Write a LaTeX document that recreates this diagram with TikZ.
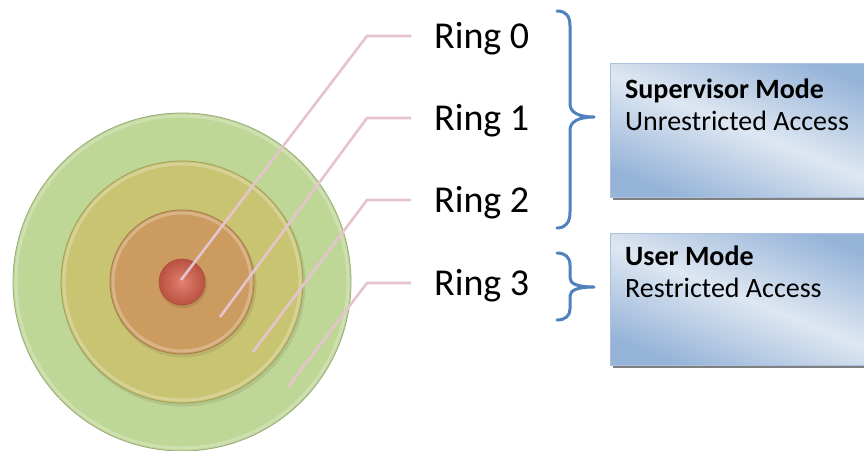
\documentclass[tikz,border=0pt]{standalone}
\usepackage{fontspec}
\setmainfont{Carlito}
\definecolor{ringgreen}{RGB}{190,214,150}
\definecolor{ringyellow}{RGB}{201,196,114}
\definecolor{ringorange}{RGB}{204,155,96}
\definecolor{ringred}{RGB}{218,96,76}
\definecolor{leader}{RGB}{230,196,206}
\definecolor{bracecol}{RGB}{79,129,189}
\definecolor{boxdark}{RGB}{150,180,216}
\definecolor{boxlight}{RGB}{222,231,242}
\definecolor{boxedge}{RGB}{170,194,224}
\definecolor{boxshadow}{RGB}{128,128,128}
\tikzset{
  disk/.style={fill=#1, draw=#1!80!black, line width=0.8pt},
  bevel/.style={draw=white, opacity=0.25, line width=3pt},
  leaderline/.style={draw=leader, line width=2.6pt},
  ringlabel/.style={anchor=base west, inner sep=0pt, font=\fontsize{38}{40}\selectfont},
  boxfill/.style={left color=boxdark, right color=boxdark, middle color=boxlight, shading angle=-22},
  modebox/.style={anchor=north west, minimum width=280pt, minimum height=134pt,
    inner sep=0pt, draw=boxedge, line width=0.8pt},
  modetext/.style={anchor=base west, inner sep=0pt, font=\fontsize{28}{30}\selectfont},
  brace/.style={draw=bracecol, line width=3pt, line cap=round, line join=round}
}
\begin{document}
\begin{tikzpicture}[x=1pt,y=-1pt]
\useasboundingbox (0,0) rectangle (864,450);
\fill[white] (0,0) rectangle (864,450);

% concentric protection rings
\coordinate (ctr) at (182,282);
\fill[disk=ringgreen] (ctr) circle (169);
\draw[bevel] (ctr) circle (166);
\fill[black, opacity=0.08] ([shift={(1.5,2.5)}]ctr) circle (122);
\fill[disk=ringyellow] (ctr) circle (121);
\draw[bevel] (ctr) circle (118);
\fill[black, opacity=0.08] ([shift={(1.5,2.5)}]ctr) circle (73);
\fill[disk=ringorange] (ctr) circle (72);
\draw[bevel] (ctr) circle (69);
\fill[black, opacity=0.1] ([shift={(1,2)}]ctr) circle (24);
\shade[inner color=ringred!80!white, outer color=ringred!85!black, draw=ringred!80!black, line width=0.6pt] (ctr) circle (23);

% leader end points
\coordinate (tip0) at (181,280);
\coordinate (tip1) at (220,317);
\coordinate (tip2) at (253,352);
\coordinate (tip3) at (288,387);
\coordinate (knee0) at (367,36);
\coordinate (knee1) at (367,118);
\coordinate (knee2) at (367,200);
\coordinate (knee3) at (367,283);
\coordinate (end0) at (411,36);
\coordinate (end1) at (411,118);
\coordinate (end2) at (411,200);
\coordinate (end3) at (411,283);

\draw[leaderline] (tip0) -- (knee0) -- (end0);
\draw[leaderline] (tip1) -- (knee1) -- (end1);
\draw[leaderline] (tip2) -- (knee2) -- (end2);
\draw[leaderline] (tip3) -- (knee3) -- (end3);

% ring labels
\node[ringlabel] (ring0) at (434,48) {Ring 0};
\node[ringlabel] (ring1) at (434,130) {Ring 1};
\node[ringlabel] (ring2) at (434,212) {Ring 2};
\node[ringlabel] (ring3) at (434,295) {Ring 3};

% braces grouping the rings
\draw[brace] (557,11) .. controls (566,11) and (570,16) .. (570,26)
  -- (570,104) .. controls (570,112) and (578,117) .. (594,117)
  .. controls (578,117) and (570,122) .. (570,130)
  -- (570,212) .. controls (570,222) and (566,228) .. (557,228);
\draw[brace] (557,253) .. controls (565,253) and (570,257) .. (570,265)
  -- (570,278) .. controls (570,284) and (578,287) .. (594,287)
  .. controls (578,287) and (570,290) .. (570,296)
  -- (570,309) .. controls (570,316) and (565,320) .. (557,320);

% mode boxes: shadow, gradient body, outline
\fill[boxshadow] (612.5,66) rectangle (885,200);
\shade[boxfill] (610,63) rectangle (882,197);
\fill[boxshadow] (612.5,236) rectangle (885,368);
\shade[boxfill] (610,233) rectangle (882,365);
\node[modebox] (sup) at (610,63) {};
\node[modebox, minimum height=132pt] (usr) at (610,233) {};
\node[modetext] (suptitle) at (625,98) {\bfseries Supervisor Mode};
\node[modetext] (supdesc) at (625,130) {Unrestricted Access};
\node[modetext] (usrtitle) at (625,265) {\bfseries User Mode};
\node[modetext] (usrdesc) at (625,297) {Restricted Access};
\end{tikzpicture}
\end{document}
